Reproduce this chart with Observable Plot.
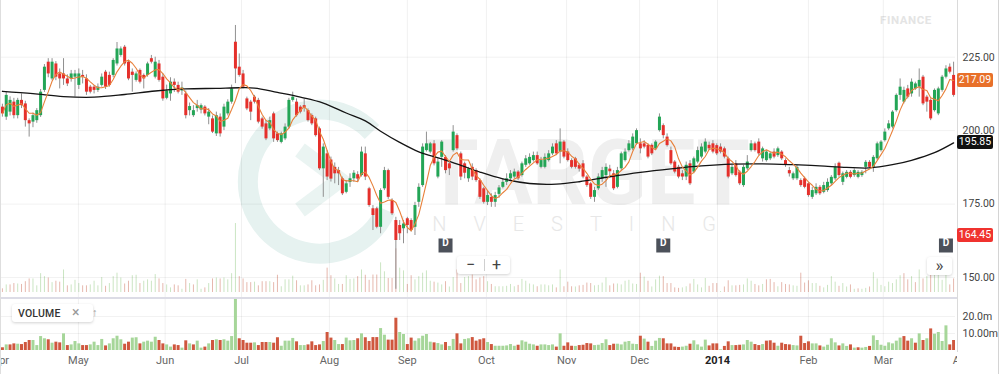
<!DOCTYPE html>
<html>
<head>
<meta charset="utf-8">
<script src="https://cdn.jsdelivr.net/npm/d3@7"></script>
<script src="https://cdn.jsdelivr.net/npm/@observablehq/plot@0.6"></script>
<style>
html,body{margin:0;padding:0;background:#fff;}
#chart{position:relative;width:1000px;height:374px;overflow:hidden;font-family:Roboto,"Liberation Sans",Arial,sans-serif;}
#chart .abs{position:absolute;}
#chart svg{position:absolute;left:0;}
.badge{position:absolute;left:957px;width:36px;height:14px;line-height:14px;font-size:10.5px;color:#fff;text-align:center;border-radius:2px;}
.box{position:absolute;background:#fff;border-radius:3px;box-shadow:0 1px 3px rgba(0,0,0,0.18);color:#333;}
</style>
</head>
<body>
<div id="chart"></div>
<script>
// ---------- data ----------
const opens = [
208.0,204.6,206.3,209.7,205.1,210.3,209.1,203.4,202.9,203.4,
205.1,213.7,223.3,217.6,222.7,219.3,219.3,217.6,217.6,218.2,
215.4,218.8,217.6,214.8,214.8,213.7,215.4,219.9,218.8,218.8,
222.7,225.6,228.4,223.3,219.9,217.1,220.5,218.8,218.8,224.5,
218.2,222.7,218.2,211.0,
212.5,216.5,215.4,213.5,212.5,206.8,205.1,207.5,207.0,208.0,
204.6,204.0,198.9,204.6,201.2,205.7,209.7,230.1,221.6,219.3,
210.8,209.7,211.4,210.3,204.0,202.3,200.6,205.7,198.9,196.0,
197.2,201.2,210.3,209.7,208.0,208.5,206.8,205.1,204.0,200.6,
187.0,192.1,190.0,
187.5,186.4,183.6,179.0,182.4,183.6,185.0,184.7,192.1,180.2,
173.4,173.4,167.1,180.2,186.4,176.2,169.4,167.7,166.6,170.0,
169.4,167.1,175.6,181.3,193.2,192.7,195.5,184.2,190.9,190.9,
188.7,193.2,198.3,192.1,188.7,183.6,187.5,186.4,183.0,180.2,
175.6,177.3,175.6,
178.3,180.7,182.4,183.6,184.2,185.9,184.7,188.2,188.7,189.8,
191.5,187.5,187.5,189.8,192.1,195.5,192.7,196.1,192.7,189.8,
190.4,188.2,188.7,184.2,181.9,177.3,180.2,183.6,184.7,186.9,
185.3,180.7,187.0,189.8,193.2,193.8,195.5,195.5,195.5,195.0,
195.0,193.8,200.0,201.7,
197.8,193.2,189.3,187.5,185.3,184.2,188.7,185.9,189.3,191.0,
192.7,195.0,195.5,194.9,194.4,193.8,190.4,185.3,188.7,185.9,
181.3,187.0,193.2,195.5,196.1,190.4,189.8,190.4,192.7,191.5,
192.7,189.8,186.4,183.6,183.6,183.0,183.6,181.9,177.3,178.5,
180.7,179.0,
179.6,181.9,183.6,188.9,182.4,184.1,185.8,184.7,184.1,184.7,
187.5,189.2,187.5,190.4,193.2,196.6,200.6,201.2,206.8,212.0,
209.7,214.2,212.5,214.2,214.8,218.2,211.4,210.3,206.8,205.7,
213.7,218.2,221.6,218.8
];
const highs = [
209.0,213.0,211.5,211.0,211.0,212.5,210.0,204.0,206.0,207.5,
214.0,222.5,224.5,224.5,223.5,221.0,224.5,219.0,220.5,220.5,
221.0,220.5,219.0,215.4,215.4,215.9,219.3,220.5,219.9,224.5,
230.0,228.5,229.0,224.0,221.0,220.0,221.0,219.3,223.3,225.6,
225.0,223.9,219.3,215.5,
218.0,217.6,216.5,216.5,213.5,209.4,208.5,210.3,209.1,208.5,
207.5,205.0,206.3,205.7,209.0,210.5,215.5,235.8,226.1,220.5,
211.4,210.3,212.0,211.0,204.6,203.4,204.6,206.3,199.5,199.5,
202.3,211.0,213.1,210.8,208.5,210.8,207.4,205.7,204.6,201.2,
195.5,193.2,191.0,
189.0,187.5,184.2,183.0,185.3,186.4,186.0,194.4,194.4,180.7,
174.5,173.9,180.2,187.5,186.9,176.8,170.5,169.4,169.4,170.5,
170.0,175.6,181.9,195.5,199.5,196.0,196.6,190.4,196.6,191.5,
189.8,201.7,198.9,192.7,189.3,187.5,188.7,187.0,183.6,180.7,
179.6,178.5,179.0,
181.3,183.6,185.3,186.4,186.9,186.4,189.3,191.5,192.1,192.7,
192.7,190.9,192.1,193.2,195.5,196.6,200.6,196.6,193.8,190.4,
190.9,188.7,189.8,184.7,182.4,180.7,185.3,187.5,188.7,188.2,
186.4,187.5,192.7,193.8,196.6,198.9,200.6,197.2,196.6,195.5,
195.5,196.6,205.7,202.3,
198.9,194.4,189.8,188.2,186.4,189.3,189.8,191.0,194.4,195.5,
197.2,196.1,196.6,195.5,195.5,194.4,191.0,188.2,189.8,186.4,
188.2,191.5,196.6,196.1,197.2,194.4,193.2,192.7,193.8,194.4,
193.2,190.4,187.5,185.9,188.2,183.6,184.2,182.4,180.7,181.9,
181.3,182.4,
183.6,184.7,188.7,189.3,185.9,186.4,186.4,187.0,186.4,186.4,
189.8,189.8,191.5,196.1,196.6,200.6,203.4,206.8,212.5,217.6,
214.8,215.4,217.6,216.5,221.0,218.8,212.0,210.8,214.2,214.8,
218.8,222.1,222.7,223.3
];
const lows = [
204.6,203.5,205.0,204.0,204.0,207.5,201.2,197.8,201.0,202.5,
204.5,213.0,218.0,217.0,217.0,214.2,215.4,215.0,216.5,211.4,
214.0,215.9,212.0,212.5,212.5,213.0,214.8,214.0,214.8,218.0,
222.0,225.0,222.0,217.0,213.1,216.5,215.9,214.2,218.2,222.7,
217.6,216.5,210.0,210.5,
210.0,213.0,212.5,212.0,204.0,205.0,204.5,206.3,205.7,205.0,
202.0,199.0,198.0,197.8,200.0,205.0,209.0,216.0,218.2,214.2,
206.8,203.4,209.1,202.3,200.5,196.6,200.0,196.0,196.0,195.5,
196.6,200.6,209.7,204.6,205.7,206.3,202.9,201.7,197.8,186.4,
177.3,183.0,182.5,
181.9,181.3,177.9,178.5,180.7,182.4,182.4,184.2,183.0,173.9,
166.0,166.6,164.9,179.6,176.6,171.1,146.0,162.6,161.5,164.9,
165.5,164.3,173.9,180.7,192.7,192.1,188.0,183.6,187.5,185.3,
184.7,192.7,193.2,183.0,183.6,182.4,183.0,182.4,176.6,175.0,
174.5,173.9,173.9,
177.0,180.2,181.3,183.0,183.6,183.0,184.2,187.5,188.2,189.3,
188.2,187.0,187.0,189.3,191.5,191.5,188.7,190.4,189.3,187.0,
186.9,185.9,183.6,180.7,176.6,175.6,179.6,182.4,180.7,184.2,
179.6,180.2,186.4,189.3,192.7,193.2,195.0,192.1,193.8,190.4,
191.5,193.2,199.5,197.2,
194.4,188.2,185.3,183.6,183.0,183.0,181.3,185.3,188.7,190.4,
192.1,193.2,192.1,191.5,192.1,190.4,183.6,184.7,184.2,181.3,
180.7,186.4,192.7,192.7,191.5,189.3,189.3,189.8,190.4,190.9,
189.8,187.5,184.2,183.0,183.0,180.7,180.2,177.3,176.6,177.9,
177.9,178.5,
179.0,181.3,183.0,184.1,181.3,183.6,183.6,184.1,183.6,184.1,
185.3,186.9,185.8,189.8,192.7,196.1,200.0,200.6,206.3,210.3,
209.1,210.8,211.4,213.7,211.4,208.5,206.3,203.4,206.3,205.1,
213.1,217.6,219.3,211.4
];
const closes = [
205.7,212.0,210.3,205.1,210.3,208.5,203.4,202.3,205.1,206.8,
213.1,221.6,219.3,223.3,218.2,217.6,217.6,215.9,219.3,219.3,
219.3,218.2,213.1,213.1,213.7,214.8,218.2,214.8,215.4,223.9,
227.8,227.8,222.7,217.6,218.8,219.3,216.5,217.6,222.7,223.3,
223.3,217.1,210.8,213.5,
216.5,215.4,213.1,214.5,205.1,208.2,206.8,208.5,208.5,205.7,
206.3,199.5,205.1,198.9,208.0,209.7,214.2,221.0,218.8,214.8,
207.4,206.3,209.7,202.9,201.2,197.2,203.4,197.2,196.6,198.9,
201.2,210.3,211.4,205.1,206.3,207.7,203.4,202.3,198.3,187.0,
194.4,184.2,183.5,
185.3,185.3,178.5,181.9,183.6,185.5,183.5,192.7,184.2,174.5,
171.1,167.1,179.6,186.4,177.3,171.7,162.6,164.9,168.2,167.7,
166.0,174.5,180.7,194.4,195.5,195.5,188.7,189.3,196.1,186.4,
187.0,199.5,193.8,184.2,185.5,187.0,184.2,183.0,177.3,175.6,
177.9,175.6,177.9,
180.5,182.4,183.6,185.3,185.9,183.6,188.7,190.4,190.9,191.5,
188.7,189.8,190.9,192.1,194.4,192.1,196.1,191.0,189.8,187.5,
187.5,186.9,184.2,181.3,177.3,179.6,184.2,186.4,187.5,186.0,
180.2,186.4,192.1,192.7,195.5,197.8,200.0,193.8,194.4,191.0,
192.1,196.1,204.6,198.3,
194.9,188.7,185.9,184.2,184.2,188.2,181.9,190.4,193.2,194.4,
196.1,193.8,192.7,192.1,192.7,191.0,184.2,187.5,184.7,181.9,
187.5,189.3,195.5,193.2,192.1,193.8,192.7,192.1,191.0,193.8,
190.4,188.2,185.3,185.3,187.5,181.3,180.7,177.9,179.6,180.7,
178.5,181.3,
182.4,184.1,187.5,184.7,185.3,185.8,184.1,186.4,185.8,185.8,
189.2,187.5,190.9,195.5,196.1,199.5,202.3,206.3,212.0,214.8,
213.7,211.4,216.5,215.9,217.1,209.1,209.7,204.0,213.7,214.2,
218.2,221.0,219.9,212.0
];
// volume, millions of shares
const volumes = [
1.6,3.3,3.3,3.9,3.7,3.5,4.7,5.9,5.9,2.9,8.2,6.9,6.3,4.3,4.9,4.5,9.8,2.9,3.3,5.3,
3.9,2.9,2.9,3.3,4.9,2.9,6.5,2.7,3.9,6.9,8.4,6.3,3.7,4.9,7.3,7.5,3.9,4.9,5.5,4.9,
7.8,5.9,3.9,3.3,2.0,3.3,2.9,1.4,5.7,3.9,3.3,5.5,1.4,2.0,3.9,5.9,6.3,5.9,6.3,5.5,
8.2,30,6.9,5.9,4.3,
4.3,4.5,2.9,4.7,4.7,4.7,4.3,7.5,2.5,5.5,5.5,7.1,5.1,2.9,2.9,3.3,5.1,2.9,3.3,5.3,
10.6,7.3,5.9,3.5,3.5,7.3,5.7,5.9,6.9,9.8,7.5,5.3,7.6,7.6,12.9,9.0,6.1,6.1,19.0,10.6,
9.4,3.5,7.3,5.5,6.9,8.4,9.4,4.9,4.5,4.1,3.3,4.7,2.4,6.5,9.8,3.9,6.5,6.9,7.6,5.5,
6.3,6.9,4.7,3.5,
2.5,2.5,2.5,2.7,3.5,2.5,3.1,5.7,4.9,3.7,3.3,2.5,3.3,3.3,2.9,3.3,2.0,9.8,2.5,4.5,
2.5,2.4,2.9,3.1,4.1,3.9,2.9,3.1,4.1,6.3,2.9,3.7,3.7,3.3,4.9,5.3,3.7,3.5,8.4,6.7,
4.9,2.4,5.5,7.1,6.9,3.9,3.9,2.0,1.8,2.0,2.5,3.7,5.7,3.3,2.0,6.1,2.7,3.9,3.9,0.4,
2.4,5.1,2.9,
2.9,3.1,3.3,5.9,4.9,3.5,2.9,3.5,5.5,5.7,4.3,2.5,4.3,3.5,3.3,2.9,2.7,8.4,4.1,5.1,
3.9,3.9,2.7,2.0,3.1,6.9,4.5,2.7,3.9,2.4,3.3,1.4,1.6,1.4,1.8,2.4,8.6,5.9,3.1,2.5,
4.5,3.9,5.5,7.3,8.2,5.5,6.9,4.3,9.8,5.9,6.9,12.7,9.6,10.6,5.3,14.5,3.3,5.9
];
// 50-day moving average (black line), read at sample positions (trading-day index)
const maIdx = [0,8,16,24,32,40,48,56,62,66,72,78,84,90,95,99,104,109,115,120,125,131,138,145,151,159,167,175,183,191,199,207,214,221,227,233,238,244,249];
const maVal = [213.4,212.6,211.6,211.4,212.3,213.5,214.2,214.4,214.6,214.5,213.0,211.4,209.4,206.0,203.3,199.8,196.0,192.8,190.4,188.2,185.9,183.6,182.0,181.8,182.6,184.3,185.8,187.0,188.0,188.6,188.7,188.4,188.0,187.5,187.3,188.4,189.9,192.5,195.85];
// month ticks (trading-day index of first session of each month)
const monthLabels = ["Apr","May","Jun","Jul","Aug","Sep","Oct","Nov","Dec","2014","Feb","Mar","Apr"];
const monthIdx = [-0.5,19.9,42.6,62.6,85.6,106,126.7,147.7,166.8,187.2,211,230.6,251];
const priceTicks = [150,175,200,225];
const volTicks = [10,20];
const volTickLabels = ["10.00m","20.0m"];
const dividendIdx = [116,173,247];
const badgeValues = [217.09,195.85,164.45];

// ---------- build ----------
const N = closes.length;
const candles = closes.map((c, i) => ({
  i, open: opens[i], high: highs[i], low: lows[i], close: c, volume: volumes[i],
  rising: c >= opens[i],
  upDay: i === 0 ? c >= opens[i] : c >= closes[i - 1]
}));
const months = monthIdx.map((x, k) => ({x, label: monthLabels[k]}));
const gridMonths = months.filter(m => m.x > 0 && m.x < N - 0.5);
const blackMA = maIdx.map((x, k) => ({i: x, v: maVal[k]}));
const xDomain = [-0.5, N - 0.5];
const FONT = "Roboto, 'Liberation Sans', Arial, sans-serif";
const root = document.getElementById("chart");

// watermark (decorative background)
const wm = document.createElementNS("http://www.w3.org/2000/svg", "svg");
wm.setAttribute("width", 1000); wm.setAttribute("height", 300);
wm.style.top = "0px";
wm.innerHTML = `
  <g fill="none" stroke="#e6f2f0">
    <path d="M 372 132 A 72 72 0 1 0 386 210" stroke-width="20"/>
    <path d="M 300 150 L 340 180 L 300 210" stroke-width="16" stroke="#eaf4f2"/>
  </g>
  <text x="425" y="204" font-family="Roboto, Arial, sans-serif" font-weight="700" font-size="90" fill="#efefef" textLength="325" lengthAdjust="spacingAndGlyphs">TARGET</text>
  <text x="400" y="231" font-family="Roboto, Arial, sans-serif" font-weight="300" font-size="20" fill="#e7e7e7" textLength="316" lengthAdjust="spacing">INVESTING</text>
  <text x="880" y="24" font-family="Roboto, Arial, sans-serif" font-weight="700" font-size="11.5" fill="#e4e4e4" letter-spacing="0.6">FINANCE</text>`;
root.appendChild(wm);

// volume overlay inside the price panel
const overlay = Plot.plot({
  width: 1000, height: 298, marginLeft: 0, marginRight: 45, marginTop: 0, marginBottom: 6,
  style: {background: "transparent"},
  x: {domain: xDomain, axis: null},
  y: {domain: [0, 127], axis: null},
  marks: [
    Plot.ruleX(candles.filter(d => d.upDay), {x: "i", y1: 0, y2: "volume", stroke: "#cbe5c3", strokeWidth: 1}),
    Plot.ruleX(candles.filter(d => !d.upDay), {x: "i", y1: 0, y2: "volume", stroke: "#e6b8ae", strokeWidth: 1})
  ]
});
overlay.style.top = "0px";
root.appendChild(overlay);

// price panel
const price = Plot.plot({
  width: 1000, height: 298, marginLeft: 0, marginRight: 45, marginTop: 0, marginBottom: 1,
  style: {background: "transparent", fontFamily: FONT, fontSize: "10.5px", color: "#444"},
  x: {domain: xDomain, axis: null},
  y: {domain: [143.2, 244.3], axis: null},
  marks: [
    Plot.ruleY(priceTicks, {stroke: "#000", strokeOpacity: 0.055}),
    Plot.ruleX(gridMonths, {x: "x", stroke: "#000", strokeOpacity: 0.06}),
    Plot.ruleX(candles, {x: "i", y1: d => Math.min(d.low, d.open, d.close), y2: d => Math.max(d.high, d.open, d.close), stroke: "#909090", strokeWidth: 1}),
    Plot.ruleX(candles.filter(d => d.rising), {x: "i", y1: "open", y2: d => Math.max(d.close, d.open + 0.35), stroke: "#23a556", strokeWidth: 3}),
    Plot.ruleX(candles.filter(d => !d.rising), {x: "i", y1: "open", y2: d => Math.min(d.close, d.open - 0.35), stroke: "#e5302b", strokeWidth: 3}),
    Plot.line(blackMA, {x: "i", y: "v", curve: "catmull-rom", stroke: "#141414", strokeWidth: 1.3}),
    Plot.lineY(candles, Plot.windowY({k: 5, anchor: "end"}, {x: "i", y: "close", stroke: "#e8803a", strokeWidth: 1.1})),
    Plot.dot(dividendIdx, {x: d => d, frameAnchor: "bottom", dy: -52, symbol: "square", r: 7.9, fill: "#4c515a"}),
    Plot.text(dividendIdx, {x: d => d, frameAnchor: "bottom", dy: -52, text: () => "D", fill: "#fff", fontSize: 10, fontWeight: "bold"}),
    Plot.text(priceTicks, {y: d => d, text: d => d.toFixed(2), frameAnchor: "right", dx: 7, textAnchor: "start", fill: "#444", fontSize: 10.5})
  ]
});
price.style.top = "0px";
root.appendChild(price);

// volume panel
const vol = Plot.plot({
  width: 1000, height: 76, marginLeft: 0, marginRight: 45, marginTop: 1, marginBottom: 24,
  style: {background: "transparent", fontFamily: FONT, fontSize: "10.5px", color: "#444"},
  x: {domain: xDomain, axis: null},
  y: {domain: [0, 30], axis: null},
  marks: [
    Plot.ruleY(volTicks, {stroke: "#000", strokeOpacity: 0.05}),
    Plot.ruleX(gridMonths, {x: "x", stroke: "#000", strokeOpacity: 0.06}),
    Plot.ruleX(candles.filter(d => d.upDay), {x: "i", y1: 0, y2: "volume", stroke: "#a6d699", strokeWidth: 3, clip: true}),
    Plot.ruleX(candles.filter(d => !d.upDay), {x: "i", y1: 0, y2: "volume", stroke: "#cf573e", strokeWidth: 3, clip: true}),
    Plot.text(volTicks, {y: d => d, text: (d, k) => volTickLabels[k], frameAnchor: "right", dx: 7, textAnchor: "start", fill: "#444", fontSize: 10.5}),
    Plot.text(months.filter(m => m.label !== "2014"), {x: "x", text: "label", frameAnchor: "bottom", dy: 13, fill: "#666", fontSize: 11}),
    Plot.text(months.filter(m => m.label === "2014"), {x: "x", text: "label", frameAnchor: "bottom", dy: 13, fill: "#222", fontSize: 11, fontWeight: "bold"})
  ]
});
vol.style.top = "298px";
root.appendChild(vol);

// chrome: separators, borders, badges, controls
function div(cls, css, html) {
  const d = document.createElement("div");
  d.className = cls; d.style.cssText = css; if (html != null) d.innerHTML = html;
  root.appendChild(d); return d;
}
div("abs", "left:957px;top:352px;width:43px;height:22px;background:#fff;");
div("abs", "left:0;top:297px;width:958px;height:1.5px;background:#dcdce6;");
div("abs", "left:957px;top:0;width:1px;height:352px;background:#dadada;");
div("abs", "left:0;top:0;width:1px;height:374px;background:#dedede;");
div("abs", "left:998px;top:0;width:1px;height:374px;background:#d4d4d4;");

const yScale = price.scale("y");
const badgeColors = ["#e8702a", "#111111", "#f0332f"];
badgeValues.forEach((v, k) => {
  const top = yScale.apply(v) - 7;
  div("badge", `top:${top}px;background:${badgeColors[k]};`, v.toFixed(2));
});

div("box", "left:457px;top:256px;width:53px;height:18px;",
  `<span style="position:absolute;left:9px;top:-1px;font-size:16px;color:#444;">&minus;</span>
   <span style="position:absolute;left:27px;top:3px;width:1px;height:12px;background:#cfcfcf;"></span>
   <span style="position:absolute;left:35px;top:-1px;font-size:16px;color:#444;">+</span>`);
div("box", "left:927px;top:257px;width:25px;height:18px;text-align:center;line-height:16px;font-size:17px;color:#444;", "&raquo;");
div("box", "left:12px;top:304px;width:81px;height:18px;",
  `<span style="position:absolute;left:6px;top:3px;font-size:10.5px;font-weight:500;color:#333;letter-spacing:0.2px;">VOLUME</span>
   <span style="position:absolute;left:60px;top:0px;font-size:14px;color:#999;">&times;</span>
   <span style="position:absolute;left:80px;top:2px;font-size:11px;color:#999;">&uarr;</span>`);
</script>
</body>
</html>
